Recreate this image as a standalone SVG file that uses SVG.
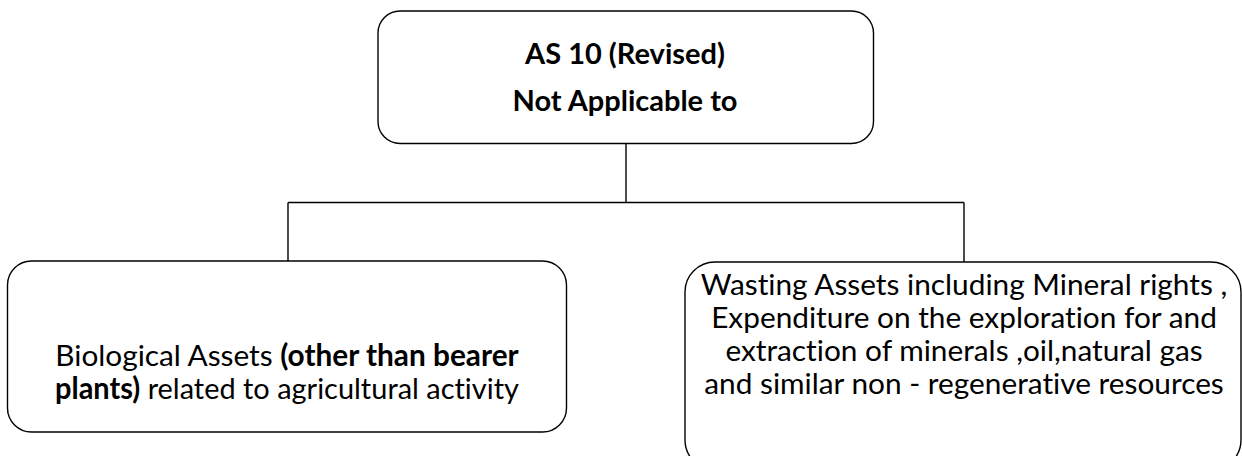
<svg xmlns="http://www.w3.org/2000/svg" width="1242" height="456" viewBox="0 0 1242 456">
<style>
.box{fill:#fff;stroke:#000;stroke-width:1.4}
.con{fill:none;stroke:#000;stroke-width:1.4}
text{font-family:Lato,"Open Sans","Liberation Sans",sans-serif;fill:#000;text-anchor:middle;font-variant-ligatures:none}
.h{font-size:29px;font-weight:bold}
.t{font-size:29.8px}
.b{font-weight:bold}
</style>
<rect width="1242" height="456" fill="#fff"/>
<g id="connectors">
<path class="con" d="M626 143V202.5M288 202.5H964M288 202.5V261M964 202.5V262"/>
</g>
<g id="top">
<rect class="box" x="378" y="11" width="495.5" height="132.5" rx="22"/>
<text class="h" x="625" y="64">AS 10 (Revised)</text>
<text class="h" x="625" y="111">Not Applicable to</text>
</g>
<g id="left">
<rect class="box" x="7.5" y="261" width="559" height="171" rx="24"/>
<text class="t" x="287" y="366">Biological Assets <tspan class="b">(other than bearer</tspan></text>
<text class="t" x="287" y="399" textLength="464" lengthAdjust="spacingAndGlyphs"><tspan class="b">plants)</tspan> related to agricultural activity</text>
</g>
<g id="right">
<rect class="box" x="685" y="262" width="556" height="208" rx="30"/>
<text class="t" x="964" y="295">Wasting Assets including Mineral rights ,</text>
<text class="t" x="964" y="328">Expenditure on the exploration for and</text>
<text class="t" x="964" y="361">extraction of minerals ,oil,natural gas</text>
<text class="t" x="964" y="394">and similar non - regenerative resources</text>
</g>
</svg>
